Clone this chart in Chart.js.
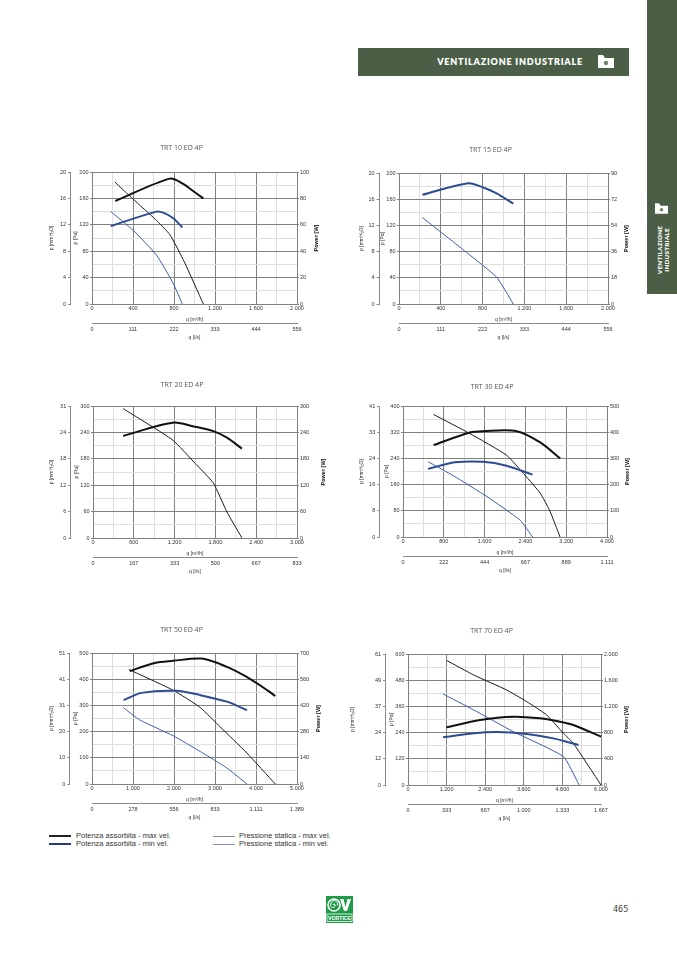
<!DOCTYPE html>
<html>
<head>
<meta charset="utf-8">
<script src="https://cdn.jsdelivr.net/npm/chart.js@4.4.1/dist/chart.umd.min.js"></script>
<style>
  html, body { margin: 0; padding: 0; background: #fff; }
  body { width: 677px; height: 958px; position: relative; overflow: hidden; font-family: "Liberation Sans", Arial, sans-serif; }
  .box { position: absolute; }
  .box canvas { display: block; }
  #banner { position: absolute; left: 358px; top: 48px; width: 271px; height: 28px; background: #4b5e46; }
  #banner span { position: absolute; right: 46px; top: 8px; color: #fff; font: 800 9px Lato, "Open Sans", sans-serif; letter-spacing: 0.8px; line-height: 12px; white-space: nowrap; }
  #banner svg { position: absolute; left: 240px; top: 7px; }
  #tab { position: absolute; left: 647px; top: 0; width: 30px; height: 294px; background: #4b5e46; }
  #tab svg { position: absolute; left: 8px; top: 202px; }
  #tab .txt { position: absolute; left: -12px; top: 243px; width: 56px; height: 14px; transform: rotate(-90deg); color: #fff;
    font: 800 6.3px Lato, "Open Sans", sans-serif; line-height: 7px; text-align: center; letter-spacing: 0.2px; white-space: nowrap; }
  .legend { position: absolute; font-size: 7.5px; color: #333; line-height: 8px; white-space: nowrap; }
  .legend i { position: absolute; display: block; width: 22px; }
  .legend b { position: absolute; font-weight: normal; color: #333; }
  #logo { position: absolute; left: 326px; top: 896px; }
  #page { position: absolute; left: 613px; top: 904px; font: 8.5px "DejaVu Sans Mono", monospace; color: #444; }
</style>
</head>
<body>

<div id="banner"><span>VENTILAZIONE INDUSTRIALE</span>
  <svg width="16" height="13" viewBox="0 0 16 13"><polygon points="0,0 5,0 7,3 16,3 16,13 0,13" fill="#fff"/><circle cx="8" cy="8" r="2.2" fill="#6b8a5f"/></svg>
</div>

<div id="tab">
  <svg width="13" height="13" viewBox="0 0 16 13"><polygon points="0,0 5,0 7,3 16,3 16,13 0,13" fill="#fff"/><circle cx="8" cy="8" r="2.2" fill="#6b8a5f"/></svg>
  <div class="txt">VENTILAZIONE<br>INDUSTRIALE</div>
</div>

<div class="box" id="c1"><canvas></canvas></div>
<div class="box" id="c2"><canvas></canvas></div>
<div class="box" id="c3"><canvas></canvas></div>
<div class="box" id="c4"><canvas></canvas></div>
<div class="box" id="c5"><canvas></canvas></div>
<div class="box" id="c6"><canvas></canvas></div>

<div class="legend" style="left:49px;top:832px;">
  <i style="left:0;top:3px;border-top:2px solid #222;"></i><b style="left:27px;top:0;">Potenza assorbita - max vel.</b>
  <i style="left:0;top:11px;border-top:2px solid #2a3577;"></i><b style="left:27px;top:8px;">Potenza assorbita - min vel.</b>
  <i style="left:164px;top:3.5px;border-top:1.5px solid #8c8c8c;"></i><b style="left:190px;top:0;">Pressione statica - max vel.</b>
  <i style="left:164px;top:11.5px;border-top:1.5px solid #8a8fc2;"></i><b style="left:190px;top:8px;">Pressione statica - min vel.</b>
</div>

<svg id="logo" width="27" height="27" viewBox="0 0 27 27">
  <rect x="0" y="0" width="27" height="27" fill="#1f9a48"/>
  <circle cx="8" cy="9" r="6" fill="none" stroke="#fff" stroke-width="1.6"/>
  <path d="M8 9 m-1 0 a1 1 0 1 1 2 0 a2.2 2.2 0 1 1 -4.2 -0.5 a3.4 3.4 0 1 1 6.4 1" fill="none" stroke="#fff" stroke-width="1"/>
  <polygon points="14,3 17.5,3 19.5,11 21.5,3 25,3 21,15 18,15" fill="#fff"/>
  <rect x="1" y="18" width="25" height="7.5" fill="none" stroke="#fff" stroke-width="0.8"/>
  <text x="13.5" y="24" font-family="Liberation Sans, Arial" font-weight="bold" font-size="5.2" fill="#fff" text-anchor="middle">VORTICE</text>
</svg>
<div id="page">465</div>

<script>
// TRT 10 ED 4P  [q m3/h, value]
const trt10PowerMax = [[228, 78], [760, 95], [890, 91], [980, 86], [1086, 80]];
const trt10PowerMin = [[183, 59], [630, 70], [700, 69], [793, 65], [881, 58]];
const trt10PressMax = [[222, 185], [400, 159], [620, 128], [760, 105], [900, 64], [1086, 0]];
const trt10PressMin = [[183, 140], [400, 112], [630, 74], [793, 31], [881, 0]];
const trt10MmLabels = ['0', '4', '8', '12', '16', '20'];
const trt10LsLabels = ['0', '111', '222', '333', '444', '556'];

// TRT 15 ED 4P
const trt15Power = [[224, 75], [662, 83], [806, 80], [934, 76], [1094, 69]];
const trt15Press = [[224, 132], [660, 77], [934, 41], [1094, 0]];
const trt15MmLabels = ['0', '4', '8', '12', '16', '20'];
const trt15LsLabels = ['0', '111', '222', '333', '444', '556'];

// TRT 20 ED 4P
const trt20PowerMax = [[443, 232], [1170, 262], [1500, 253], [1770, 243], [1970, 228], [2190, 203]];
const trt20PressMax = [[443, 294], [1170, 223], [1500, 170], [1770, 125], [1970, 59], [2190, 0]];
const trt20MmLabels = ['0', '6', '12', '18', '24', '31'];
const trt20LsLabels = ['0', '167', '333', '500', '667', '833'];

// TRT 30 ED 4P
const trt30PowerMax = [[600, 351], [1310, 399], [1570, 404], [2230, 404], [2690, 361], [3080, 300]];
const trt30PowerMin = [[490, 260], [1020, 285], [1570, 287], [2030, 272], [2540, 238]];
const trt30PressMax = [[600, 374], [1310, 316], [2030, 250], [2390, 189], [2690, 134], [2870, 83], [3080, 0]];
const trt30PressMin = [[490, 230], [1000, 186], [1640, 124], [2300, 51], [2540, 0]];
const trt30MmLabels = ['0', '8', '16', '24', '33', '41'];
const trt30LsLabels = ['0', '222', '444', '667', '889', '1.111'];

// TRT 50 ED 4P
const trt50PowerMax = [[920, 603], [1530, 647], [1980, 658], [2680, 670], [3290, 626], [3740, 576], [4270, 502], [4470, 470]];
const trt50PowerMin = [[770, 448], [1210, 487], [2060, 498], [2640, 475], [3290, 440], [3780, 395]];
const trt50PressMax = [[900, 437], [1980, 358], [2640, 292], [3120, 219], [3780, 118], [4470, 0]];
const trt50PressMin = [[760, 292], [1170, 244], [1980, 184], [2640, 124], [3290, 61], [3780, 0]];
const trt50MmLabels = ['0', '10', '20', '31', '41', '51'];
const trt50LsLabels = ['0', '278', '556', '833', '1.111', '1.389'];

// TRT 70 ED 4P
const trt70PowerMax = [[1190, 880], [2240, 992], [3280, 1043], [4100, 1018], [4730, 967], [5140, 916], [6000, 738]];
const trt70PowerMin = [[1090, 728], [2040, 789], [2760, 809], [3690, 779], [4520, 712], [5040, 646], [5300, 611]];
const trt70PressMax = [[1210, 570], [2040, 504], [3070, 435], [3690, 382], [4310, 321], [4830, 237], [5140, 191], [6000, 0]];
const trt70PressMin = [[1090, 417], [2040, 344], [3280, 244], [4830, 130], [5320, 0]];
const trt70MmLabels = ['0', '12', '24', '37', '49', '61'];
const trt70LsLabels = ['0', '333', '667', '1.000', '1.333', '1.667'];

// axis ranges: q max, Pa max, power max (5 major divisions each)
const qMax = [2000, 2000, 3000, 4000, 5000, 6000];
const paMax = [200, 200, 300, 400, 500, 600];
const powMax = [100, 90, 300, 500, 700, 2000];

const MAJOR = '#808080';
const MINOR = '#dedede';
const TICK_FONT = { family: '"Liberation Sans", Arial, sans-serif', size: 5.5 };
const AXIS_FONT = { family: '"Liberation Sans", Arial, sans-serif', size: 5 };

// series styles: power max, power min, pressure max, pressure min
const STYLES = [
    { axis: 'yPow', color: '#111111', width: 2, tension: 0.3 },
    { axis: 'yPow', color: '#2d4b93', width: 2, tension: 0.3 },
    { axis: 'y', color: '#1a1a1a', width: 1, tension: 0.15 },
    { axis: 'y', color: '#3b5cab', width: 1, tension: 0.15 }
];

const charts = [
    { id: 'c1', title: 'TRT 10 ED 4P', box: [92, 172, 297, 304], mm: trt10MmLabels, ls: trt10LsLabels,
      series: [trt10PowerMax, trt10PowerMin, trt10PressMax, trt10PressMin], gap: { title: 24, mmLine: 21.5, mmTitle: 40.3, pow: 19.3 } },
    { id: 'c2', title: 'TRT 15 ED 4P', box: [399, 173, 608, 304], mm: trt15MmLabels, ls: trt15LsLabels,
      series: [null, trt15Power, null, trt15Press], gap: { title: 23.5, mmLine: 20, mmTitle: 37.6, pow: 18.3 } },
    { id: 'c3', title: 'TRT 20 ED 4P', box: [93, 406, 297, 538], mm: trt20MmLabels, ls: trt20LsLabels,
      series: [trt20PowerMax, null, trt20PressMax, null], gap: { title: 21, mmLine: 22.3, mmTitle: 41, pow: 26 } },
    { id: 'c4', title: 'TRT 30 ED 4P', box: [403, 406, 607, 537], mm: trt30MmLabels, ls: trt30LsLabels,
      series: [trt30PowerMax, trt30PowerMin, trt30PressMax, trt30PressMin], gap: { title: 19, mmLine: 23.3, mmTitle: 41.6, pow: 20.6 } },
    { id: 'c5', title: 'TRT 50 ED 4P', box: [92, 653, 297, 784], mm: trt50MmLabels, ls: trt50LsLabels,
      series: [trt50PowerMax, trt50PowerMin, trt50PressMax, trt50PressMin], gap: { title: 22.7, mmLine: 22.3, mmTitle: 40, pow: 21.6 } },
    { id: 'c6', title: 'TRT 70 ED 4P', box: [408, 654, 601, 785], mm: trt70MmLabels, ls: trt70LsLabels,
      series: [trt70PowerMax, trt70PowerMin, trt70PressMax, trt70PressMin], gap: { title: 23.3, mmLine: 22.4, mmTitle: 55.4, pow: 25 } }
];

// italian thousands separator
function fmt(v) {
    return String(v).replace(/\B(?=(\d{3})+(?!\d))/g, '.');
}

function buildChart(cfg, n) {
    const [L, T, R, B] = cfg.box;
    const g = cfg.gap;
    const wrap = document.getElementById(cfg.id);
    wrap.style.left = (L - 60) + 'px';
    wrap.style.top = (T - 32) + 'px';
    const canvas = wrap.querySelector('canvas');
    canvas.width = R - L + 94;
    canvas.height = B - T + 71;

    const qStep = qMax[n] / 5;
    const paStep = paMax[n] / 5;

    const datasets = [];
    cfg.series.forEach((s, i) => {
        if (!s) return;
        const st = STYLES[i];
        datasets.push({
            data: s.map(p => ({ x: p[0], y: p[1] })),
            yAxisID: st.axis,
            borderColor: st.color,
            borderWidth: st.width,
            tension: st.tension,
            pointRadius: 0,
            fill: false
        });
    });

    // Power [W] title reads bottom-to-top on the right side
    const powerTitle = {
        id: 'powerTitle',
        afterDraw(chart) {
            const a = chart.chartArea;
            const c = chart.ctx;
            c.save();
            c.translate(a.right + g.pow, (a.top + a.bottom) / 2);
            c.rotate(-Math.PI / 2);
            c.font = 'bold 5.5px "Liberation Sans", Arial, sans-serif';
            c.fillStyle = '#111';
            c.textAlign = 'center';
            c.textBaseline = 'middle';
            c.fillText('Power [W]', 0, 0);
            c.restore();
        }
    };

    const titleTop = 32 - g.title - 4.2;

    new Chart(canvas.getContext('2d'), {
        type: 'line',
        data: { datasets: datasets },
        plugins: [powerTitle],
        options: {
            responsive: false,
            animation: false,
            events: [],
            layout: { padding: 0 },
            plugins: {
                legend: { display: false },
                tooltip: { enabled: false },
                title: {
                    display: true,
                    text: cfg.title,
                    color: '#555',
                    font: { family: '"Open Sans", sans-serif', size: 7, weight: 'normal' },
                    padding: { top: titleTop, bottom: 32 - 8.4 - titleTop }
                }
            },
            scales: {
                x: {
                    type: 'linear', position: 'bottom', weight: 0,
                    min: 0, max: qMax[n],
                    ticks: {
                        stepSize: qStep / 2, autoSkip: false, maxRotation: 0, padding: 0.7,
                        font: TICK_FONT, color: '#333',
                        callback: v => (v % qStep === 0 ? fmt(v) : '')
                    },
                    grid: {
                        color: c => (c.tick && c.tick.value % qStep === 0 ? MAJOR : MINOR),
                        drawTicks: false
                    },
                    border: { color: MAJOR },
                    title: { display: true, text: 'q [m³/h]', font: AXIS_FONT, color: '#333', padding: { top: 0, bottom: 0.7 } },
                    afterFit: s => { s.height = 19; }
                },
                xls: {
                    type: 'linear', position: 'bottom', weight: 1,
                    min: 0, max: qMax[n],
                    ticks: {
                        stepSize: qStep, autoSkip: false, maxRotation: 0, padding: 2.7,
                        font: TICK_FONT, color: '#333',
                        callback: (v, i) => cfg.ls[i]
                    },
                    grid: { display: false, drawOnChartArea: false, drawTicks: false },
                    border: { display: true, color: '#8a8a8a' },
                    title: { display: true, text: 'q [l/s]', font: AXIS_FONT, color: '#333', padding: { top: 0, bottom: 2.7 } },
                    afterFit: s => { s.height = 20; }
                },
                y: {
                    type: 'linear', position: 'left', weight: 1,
                    min: 0, max: paMax[n],
                    ticks: {
                        stepSize: paStep / 2, autoSkip: false, padding: 1.5,
                        font: TICK_FONT, color: '#333',
                        callback: v => (v % paStep === 0 ? fmt(v) : '')
                    },
                    grid: {
                        color: c => (c.tick && c.tick.value % paStep === 0 ? MAJOR : MINOR),
                        tickColor: c => (c.tick && c.tick.value % paStep === 0 ? MAJOR : 'rgba(0,0,0,0)'),
                        tickLength: 2
                    },
                    border: { color: MAJOR },
                    title: { display: true, text: 'p [Pa]', font: AXIS_FONT, color: '#333', padding: { top: g.mmLine - 16.8 - 3, bottom: 0 } },
                    afterFit: s => { s.width = g.mmLine; }
                },
                ymm: {
                    type: 'linear', position: 'left', weight: 2,
                    min: 0, max: paMax[n],
                    ticks: {
                        stepSize: paStep, autoSkip: false, padding: 2,
                        font: TICK_FONT, color: '#333',
                        callback: (v, i) => cfg.mm[i]
                    },
                    grid: { drawOnChartArea: false, tickLength: 2.5, color: '#8a8a8a' },
                    border: { color: '#8a8a8a' },
                    title: { display: true, text: 'p [mmH₂O]', font: AXIS_FONT, color: '#333', padding: { top: 60 - g.mmTitle - 3, bottom: 0 } },
                    afterFit: s => { s.width = 60 - g.mmLine; }
                },
                yPow: {
                    type: 'linear', position: 'right',
                    min: 0, max: powMax[n],
                    ticks: {
                        stepSize: powMax[n] / 5, autoSkip: false, padding: 1,
                        font: TICK_FONT, color: '#333',
                        callback: v => fmt(v)
                    },
                    grid: { drawOnChartArea: false, tickLength: 2, color: MAJOR },
                    border: { color: MAJOR },
                    afterFit: s => { s.width = 34; }
                }
            }
        }
    });
}

charts.forEach((cfg, n) => buildChart(cfg, n));
</script>
</body>
</html>
